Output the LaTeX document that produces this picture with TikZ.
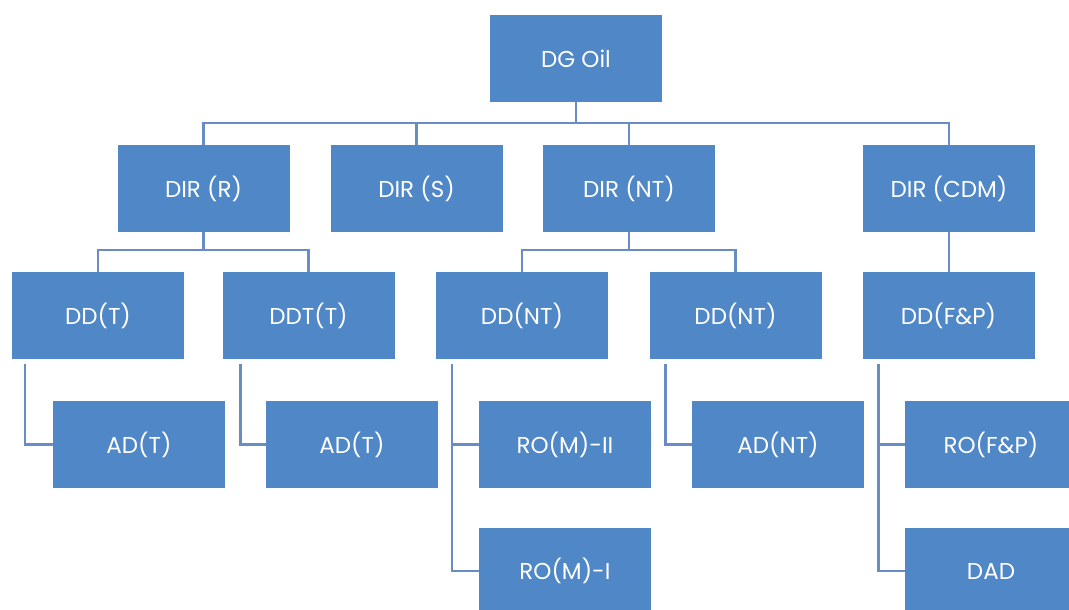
\documentclass[tikz,border=0pt]{standalone}
\usepackage{fontspec}
\setmainfont{Poppins}
\usetikzlibrary{calc}
\definecolor{boxblue}{HTML}{4F87C7}
\definecolor{lineblue}{HTML}{6A8CC4}
\begin{document}
\begin{tikzpicture}[x=1pt,y=-1pt,
  orgbox/.style={fill=boxblue,draw=none,minimum width=172pt,minimum height=87pt,inner sep=0pt,
    text=white,font=\fontsize{23}{26}\selectfont},
  conn/.style={draw=lineblue,line width=2.4pt}]
\useasboundingbox (0,0) rectangle (1069,610);
\fill[white] (0,0) rectangle (1069,610);
\begin{scope}
\clip (0,0) rectangle (1069,610);
\node[orgbox] (dg) at (576,58.5) {DG Oil};
\node[orgbox] (dirR) at (203.5,188.5) {DIR (R)};
\node[orgbox] (dirS) at (416.5,188.5) {DIR (S)};
\node[orgbox] (dirNT) at (629,188.5) {DIR (NT)};
\node[orgbox] (dirCDM) at (949,188.5) {DIR (CDM)};
\node[orgbox] (ddT) at (98,315.5) {DD(T)};
\node[orgbox] (ddtT) at (308.5,315.5) {DDT(T)};
\node[orgbox] (ddNTa) at (522,315.5) {DD(NT)};
\node[orgbox] (ddNTb) at (735.5,315.5) {DD(NT)};
\node[orgbox] (ddFP) at (948.5,315.5) {DD(F\&P)};
\node[orgbox] (adTa) at (139,444.5) {AD(T)};
\node[orgbox] (adTb) at (352,444.5) {AD(T)};
\node[orgbox] (romII) at (565,444.5) {RO(M)-II};
\node[orgbox] (adNT) at (778,444.5) {AD(NT)};
\node[orgbox] (roFP) at (991,444.5) {RO(F\&P)};
\node[orgbox] (romI) at (565,571) {RO(M)-I};
\node[orgbox] (dad) at (991,571) {DAD};
\end{scope}
\coordinate (busA) at (0,123);
\coordinate (busB) at (0,250);
\coordinate (vT) at ($(ddT.south west)+(13,5)$);
\coordinate (vTT) at ($(ddtT.south west)+(18,5)$);
\coordinate (vNTa) at ($(ddNTa.south west)+(16,5)$);
\coordinate (vNTb) at ($(ddNTb.south west)+(16,5)$);
\coordinate (vFP) at ($(ddFP.south west)+(16,5)$);
% top level
\draw[conn] (dg.south) -- (dg.south |- busA);
\draw[conn] (dirR.north) -- (dirR.north |- busA) -- (dirCDM.north |- busA) -- (dirCDM.north);
\draw[conn] (dirS.north) -- (dirS.north |- busA);
\draw[conn] (dirNT.north) -- (dirNT.north |- busA);
% DIR (R)
\draw[conn] (dirR.south) -- (dirR.south |- busB);
\draw[conn] (ddT.north) -- (ddT.north |- busB) -- (ddtT.north |- busB) -- (ddtT.north);
% DIR (NT)
\draw[conn] (dirNT.south) -- (dirNT.south |- busB);
\draw[conn] (ddNTa.north) -- (ddNTa.north |- busB) -- (ddNTb.north |- busB) -- (ddNTb.north);
% DIR (CDM)
\draw[conn] (dirCDM.south) -- (dirCDM.south |- ddFP.north);
% third level
\draw[conn] (vT) |- (adTa.west);
\draw[conn] (vTT) |- (adTb.west);
\draw[conn] (vNTa) |- (romI.west);
\draw[conn] (vNTa |- romII.west) -- (romII.west);
\draw[conn] (vNTb) |- (adNT.west);
\draw[conn] (vFP) |- (dad.west);
\draw[conn] (vFP |- roFP.west) -- (roFP.west);
\end{tikzpicture}
\end{document}
